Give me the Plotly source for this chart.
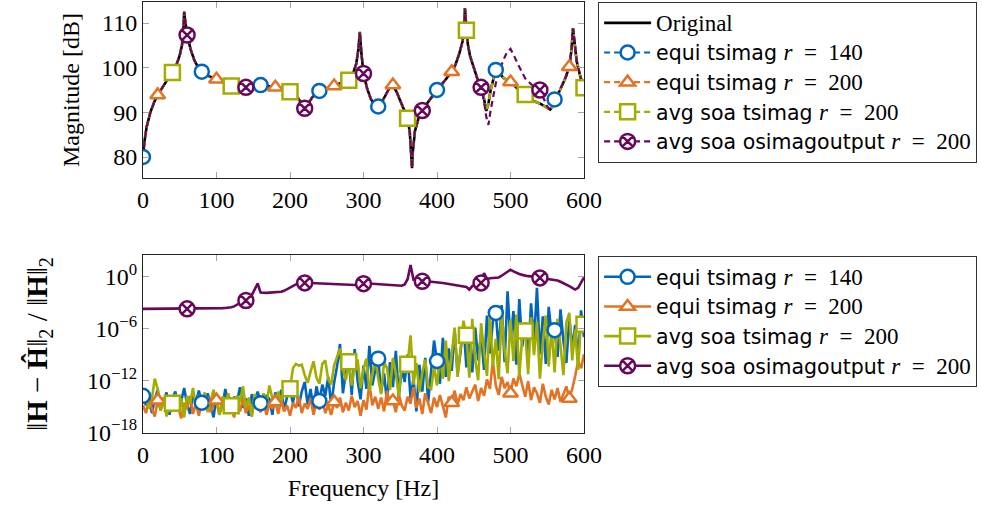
import numpy as np
import plotly.graph_objects as go

SERIF = "Liberation Serif"
SANS = "DejaVu Sans"

BLUE = "#0065BD"
ORANGE = "#E37222"
GREEN = "#A2AD00"
PURPLE = "#69085A"

# ---------------- magnitude of the transfer function [dB] ----------------
mag_freq = [
    0, 2, 5, 10, 15, 20, 25, 30, 35, 40,
    45, 50, 53, 55, 56, 57, 58, 60, 65, 70,
    75, 80, 90, 100, 110, 120, 130, 140, 150, 160,
    170, 180, 190, 200, 210, 215, 220, 225, 230, 240,
    250, 260, 270, 280, 285, 290, 293, 295, 297, 300,
    305, 310, 315, 320, 325, 330, 335, 340, 345, 350,
    355, 360, 363, 365, 366, 367, 370, 375, 380, 390,
    400, 410, 420, 425, 430, 435, 437, 438, 439, 440,
    442, 445, 450, 455, 460, 464, 467, 470, 473, 476,
    480, 485, 490, 495, 500, 505, 510, 520, 530, 540,
    545, 550, 554, 556, 560, 566, 570, 575, 580, 583,
    585, 587, 590, 595, 600,
]
mag_original = [
    80.0, 83.5, 86.8, 90.0, 92.2, 93.9, 95.2, 96.5, 97.7, 98.9,
    100.4, 102.8, 105.0, 108.5, 112.5, 111.0, 109.3, 107.3, 104.0, 101.6,
    100.1, 99.1, 98.1, 97.4, 96.6, 95.9, 95.7, 95.6, 95.9, 96.1,
    95.9, 95.6, 95.2, 94.6, 93.4, 92.2, 90.9, 92.0, 93.3, 94.8,
    95.4, 95.9, 96.5, 97.2, 98.3, 100.8, 104.0, 108.0, 103.5, 98.7,
    95.3, 93.0, 91.7, 91.3, 92.3, 94.0, 95.4, 96.1, 94.6, 92.6,
    90.6, 88.7, 85.5, 80.5, 77.5, 81.0, 85.8, 88.8, 90.4, 92.8,
    95.0, 97.0, 99.1, 100.6, 103.0, 106.0, 109.0, 113.3, 111.0, 108.4,
    105.2, 102.6, 99.8, 97.5, 95.6, 93.0, 90.3, 92.0, 95.0, 97.2,
    99.5, 98.8, 97.8, 97.2, 96.8, 96.0, 95.2, 94.0, 92.6, 92.0,
    91.5, 90.9, 90.6, 91.0, 92.9, 94.5, 96.0, 97.8, 100.2, 104.0,
    108.8, 106.0, 101.5, 98.0, 95.5,
]
mag_equi_tsimag_140 = list(mag_original)
mag_equi_tsimag_200 = list(mag_original)
mag_avg_soa_tsimag_200 = list(mag_original)
mag_avg_soa_osimagoutput_200 = [
    80.0, 83.5, 86.8, 90.0, 92.2, 93.9, 95.2, 96.5, 97.7, 98.9,
    100.4, 102.8, 105.0, 108.5, 112.5, 111.0, 109.3, 107.3, 104.0, 101.6,
    100.1, 99.1, 98.1, 97.4, 96.6, 95.9, 95.7, 95.6, 95.9, 96.1,
    95.9, 95.6, 95.2, 94.6, 93.4, 92.2, 90.9, 92.0, 93.3, 94.8,
    95.4, 95.9, 96.5, 97.2, 98.3, 100.8, 104.0, 108.0, 103.5, 98.7,
    95.3, 93.0, 91.7, 91.3, 92.3, 94.0, 95.4, 96.1, 94.6, 92.6,
    90.6, 88.7, 85.5, 80.5, 77.5, 81.0, 85.8, 88.8, 90.4, 92.8,
    95.0, 97.0, 99.1, 100.6, 103.0, 106.0, 109.0, 113.3, 111.0, 108.4,
    105.2, 102.6, 99.8, 97.5, 95.6, 92.5, 89.0, 87.2, 90.5, 93.5,
    96.5, 99.3, 101.6, 103.4, 104.2, 102.6, 100.8, 97.6, 96.0, 95.0,
    93.0, 91.3, 90.6, 91.0, 92.9, 94.5, 96.0, 97.8, 100.2, 104.0,
    108.8, 106.0, 101.5, 98.0, 95.5,
]

# ---------------- relative error, log10 exponents, every 4 Hz ----------------
err_freq = list(range(0, 601, 4))
err_exp_equi_tsimag_140 = [
    -13.8, -14.9, -13.6, -15.8, -14.2, -13.1, -15.3, -14.6, -13.4, -16.0,
    -14.1, -13.3, -15.5, -14.4, -12.9, -14.8, -15.9, -13.7, -14.5, -13.2,
    -14.6, -15.4, -13.5, -14.9, -16.3, -13.8, -14.3, -15.1, -13.0, -14.7,
    -15.6, -13.9, -14.4, -12.8, -15.2, -14.1, -16.1, -13.6, -14.8, -13.3,
    -14.65, -15.3, -13.7, -14.2, -16.0, -13.4, -14.9, -13.1, -15.5, -13.9,
    -13.2, -14.6, -12.6, -15.0, -13.3, -12.2, -14.8, -13.0, -15.4, -12.7,
    -14.4, -12.5, -13.8, -11.6, -14.9, -12.3, -10.4, -7.8, -13.5, -11.0,
    -9.6, -13.7, -8.4, -12.1, -14.2, -10.3, -13.0, -8.0, -12.6, -10.8,
    -9.5, -13.4, -11.2, -14.6, -9.9, -12.8, -8.6, -13.9, -10.7, -12.2,
    -9.0, -14.1, -11.8, -15.6, -10.2, -13.3, -9.4, -14.5, -11.0, -7.4,
    -9.77, -12.4, -7.1, -11.6, -8.3, -10.9, -6.2, -11.3, -8.8, -5.4,
    -10.5, -7.0, -11.1, -5.9, -9.7, -6.6, -10.8, -4.5, -8.9, -5.2,
    -4.2, -8.6, -3.3, -9.9, -1.7, -7.5, -4.0, -10.2, -2.6, -8.1,
    -5.3, -9.4, -3.1, -7.7, -1.3, -9.0, -4.6, -10.1, -3.5, -6.8,
    -6.2, -9.3, -3.8, -7.4, -10.0, -4.9, -8.2, -5.6, -9.6, -3.9, -7.0,
]
err_exp_equi_tsimag_200 = [
    -14.9, -15.8, -14.3, -15.2, -16.2, -14.3, -15.5, -14.0, -16.0, -14.8,
    -15.6, -13.9, -15.1, -16.4, -14.6, -15.3, -13.8, -15.9, -14.7, -16.1,
    -14.5, -15.4, -13.9, -15.7, -14.8, -14.3, -16.0, -14.9, -15.5, -13.7,
    -15.2, -16.3, -14.4, -15.6, -14.1, -15.8, -14.9, -16.2, -13.9, -15.0,
    -15.7, -14.4, -16.0, -14.8, -15.3, -14.5, -15.9, -14.2, -15.6, -14.9,
    -16.1, -14.6, -15.2, -13.9, -15.8, -14.7, -15.3, -14.1, -16.0, -14.6,
    -15.4, -14.2, -15.8, -14.9, -16.0, -14.5, -15.2, -14.0, -15.7, -14.6,
    -15.5, -13.8, -15.1, -14.4, -16.1, -14.3, -15.4, -12.4, -14.9, -13.9,
    -15.3, -14.0, -15.6, -13.2, -14.8, -14.4, -15.7, -13.6, -14.9, -15.5,
    -13.9, -14.7, -12.8, -15.2, -14.1, -15.9, -13.5, -14.6, -15.8, -14.0,
    -15.1, -13.7, -14.9, -16.3, -13.9, -14.6, -13.2, -14.8, -13.6, -14.3,
    -12.8, -14.1, -13.3, -12.5, -14.4, -12.9, -13.8, -11.9, -13.0, -9.8,
    -12.6, -13.7, -11.6, -12.9, -12.2, -13.5, -11.8, -12.7, -11.2, -12.4,
    -13.9, -12.1, -14.3, -12.8, -13.5, -14.6, -12.4, -13.9, -14.8, -13.1,
    -14.2, -12.9, -14.5, -13.6, -12.7, -14.1, -13.0, -11.5, -9.8, -10.6, -9.0,
]
err_exp_avg_soa_tsimag_200 = [
    -14.6, -13.9, -15.3, -14.2, -11.8, -13.0, -15.5, -14.0, -16.2, -14.3,
    -14.65, -13.6, -15.4, -14.1, -16.3, -13.8, -14.7, -12.9, -15.1, -13.7,
    -14.9, -13.4, -15.7, -14.3, -13.1, -14.6, -16.0, -13.9, -14.8, -13.5,
    -14.96, -15.6, -13.8, -14.5, -12.7, -15.2, -14.0, -16.1, -13.6, -14.4,
    -15.4, -13.5, -14.7, -12.6, -14.1, -15.0, -13.3, -14.6, -12.9, -13.8,
    -12.97, -10.6, -10.1, -10.3, -10.2, -11.4, -12.3, -11.0, -9.8, -11.7,
    -12.4, -10.1, -9.7, -11.9, -12.5, -10.3, -9.2, -8.3, -10.8, -12.0,
    -9.85, -12.6, -10.2, -9.6, -12.9, -10.7, -9.5, -13.2, -11.4, -9.4,
    -11.8, -13.6, -9.9, -10.6, -13.1, -9.4, -11.2, -13.8, -10.3, -9.7,
    -10.15, -6.8, -12.5, -10.0, -13.4, -11.1, -9.6, -12.8, -13.0, -10.4,
    -12.6, -9.2, -11.8, -7.4, -12.1, -9.0, -5.9, -11.6, -8.3, -5.1,
    -6.8, -11.7, -4.9, -9.6, -12.0, -5.4, -8.7, -11.5, -4.6, -10.3,
    -7.2, -11.9, -4.3, -8.5, -11.2, -5.0, -9.8, -4.4, -11.6, -6.9,
    -6.3, -11.3, -4.7, -9.1, -5.2, -11.8, -7.6, -4.5, -10.4, -5.8,
    -11.1, -4.9, -8.0, -11.4, -5.3, -4.2, -9.7, -6.1, -10.8, -4.8, -5.5,
]
err_exp_avg_soa_osimagoutput_200 = [
    -3.73, -3.73, -3.73, -3.73, -3.72, -3.72, -3.72, -3.73, -3.73, -3.73,
    -3.73, -3.73, -3.73, -3.73, -3.73, -3.73, -3.72, -3.71, -3.70, -3.70,
    -3.70, -3.69, -3.69, -3.68, -3.68, -3.67, -3.66, -3.65, -3.63, -3.60,
    -3.55, -3.45, -3.25, -3.00, -2.85, -2.77, -2.55, -2.15, -1.50, -0.80,
    -1.85, -1.90, -1.88, -1.86, -1.84, -1.83, -1.80, -1.75, -1.65, -1.45,
    -1.20, -1.00, -0.90, -0.80, -0.75, -0.73, -0.72, -0.74, -0.76, -0.78,
    -0.80, -0.81, -0.82, -0.84, -0.86, -0.87, -0.88, -0.90, -0.92, -0.95,
    -0.97, -0.98, -0.97, -0.93, -0.88, -0.82, -0.80, -0.80, -0.82, -0.85,
    -0.88, -0.90, -0.93, -0.95, -0.98, -1.00, -1.02, -1.05, -1.05, -0.90,
    -0.30, 1.35, -0.35, -0.45, -0.50, -0.55, -0.56, -0.58, -0.60, -0.62,
    -0.65, -0.70, -0.75, -0.80, -0.85, -0.90, -0.95, -1.00, -1.05, -1.10,
    -1.20, -1.50, -1.10, -0.90, -0.80, -0.73, 0.40, -0.30, -0.20, -0.15,
    -0.15, -0.10, 0.10, 0.35, 0.60, 0.80, 0.60, 0.40, 0.30, 0.20,
    0.10, 0.05, 0.03, -0.05, -0.10, -0.15, -0.20, -0.25, -0.30, -0.33,
    -0.35, -0.45, -0.60, -0.75, -0.90, -1.10, -1.30, -1.50, -1.30, -0.70, -0.10,
]

# marks are placed every 80 Hz, each method with its own starting frequency
MARK_STEP = 80

err_ticks = [1e-18, 1e-12, 1e-6, 1e0]
err_tick_text = ["10<sup>−18</sup>", "10<sup>−12</sup>", "10<sup>−6</sup>", "10<sup>0</sup>"]

MATH_STYLE = f"font-family:{SERIF};font-size:23px"


def r_label(method, r):
    return f'{method} <span style="{MATH_STYLE}"><i>r</i>\u2002=\u2002{r}</span>'


methods = [
    dict(label=r_label("equi tsimag", 140), color=BLUE, symbol="circle", size=14,
         start=0, mag=mag_equi_tsimag_140, err=err_exp_equi_tsimag_140),
    dict(label=r_label("equi tsimag", 200), color=ORANGE, symbol="triangle-up", size=13,
         start=20, mag=mag_equi_tsimag_200, err=err_exp_equi_tsimag_200),
    dict(label=r_label("avg soa tsimag", 200), color=GREEN, symbol="square", size=15,
         start=40, mag=mag_avg_soa_tsimag_200, err=err_exp_avg_soa_tsimag_200),
    dict(label=r_label("avg soa osimagoutput", 200), color=PURPLE, symbol="circle-x", size=15,
         start=60, mag=mag_avg_soa_osimagoutput_200, err=err_exp_avg_soa_osimagoutput_200),
]

DASH = "6px,4px"
MARK_LW = 2.5

fig = go.Figure()

f_mag = np.array(mag_freq, dtype=float)
f_err = np.array(err_freq, dtype=float)

# --- top panel: lines ---
fig.add_trace(go.Scatter(
    x=f_mag, y=mag_original, mode="lines", xaxis="x", yaxis="y",
    line=dict(color="black", width=2.6),
    name=f'<span style="{MATH_STYLE}">Original</span>',
    legend="legend", showlegend=True, hoverinfo="skip"))
for m in methods:
    fig.add_trace(go.Scatter(
        x=f_mag, y=m["mag"], mode="lines", xaxis="x", yaxis="y",
        line=dict(color=m["color"], width=2.2, dash=DASH),
        showlegend=False, hoverinfo="skip"))

# --- bottom panel: lines ---
for m in methods:
    fig.add_trace(go.Scatter(
        x=f_err, y=10.0 ** np.array(m["err"]), mode="lines", xaxis="x2", yaxis="y2",
        line=dict(color=m["color"], width=2.6),
        showlegend=False, hoverinfo="skip"))


def marker_style(m):
    return dict(symbol=m["symbol"], size=m["size"], color="white",
                line=dict(color=m["color"], width=MARK_LW))


# --- marks on top of all lines ---
for m in methods:
    mag = np.array(m["mag"])
    sel = ((f_mag - m["start"]) % MARK_STEP == 0)
    fig.add_trace(go.Scatter(
        x=f_mag[sel], y=mag[sel], mode="markers", xaxis="x", yaxis="y",
        marker=marker_style(m), showlegend=False, hoverinfo="skip"))
for m in methods:
    err = 10.0 ** np.array(m["err"])
    sel = ((f_err - m["start"]) % MARK_STEP == 0)
    fig.add_trace(go.Scatter(
        x=f_err[sel], y=err[sel], mode="markers", xaxis="x2", yaxis="y2",
        marker=marker_style(m), showlegend=False, hoverinfo="skip"))

# --- legend entries ---
for m in methods:
    fig.add_trace(go.Scatter(
        x=[None], y=[None], mode="lines+markers", xaxis="x", yaxis="y",
        line=dict(color=m["color"], width=2.2, dash=DASH),
        marker=marker_style(m), name=m["label"], legend="legend"))
for m in methods:
    fig.add_trace(go.Scatter(
        x=[None], y=[None], mode="lines+markers", xaxis="x2", yaxis="y2",
        line=dict(color=m["color"], width=2.6),
        marker=marker_style(m), name=m["label"], legend="legend2"))

tick_font = dict(family=SERIF, size=24, color="black")
title_font = dict(family=SERIF, size=24, color="black")
axis_common = dict(
    showline=True, linecolor="#222222", linewidth=1, mirror="allticks",
    ticks="inside", ticklen=6, tickwidth=1, tickcolor="#a6a6a6",
    showgrid=False, zeroline=False, tickfont=tick_font,
)

legend_common = dict(
    xanchor="left", yanchor="top", x=1.032,
    bgcolor="white", bordercolor="#333333", borderwidth=1,
    font=dict(family=SANS, size=20.5, color="black"),
    itemwidth=47, itemclick=False, itemdoubleclick=False,
)

fig.update_layout(
    width=982, height=508,
    margin=dict(l=143, r=398, t=2, b=75),
    paper_bgcolor="white", plot_bgcolor="white",
    xaxis=dict(domain=[0, 1], anchor="y", range=[0, 600],
               tickvals=[0, 100, 200, 300, 400, 500, 600], **axis_common),
    yaxis=dict(domain=[0.5916, 1.0], anchor="x", range=[75.3, 114.7],
               tickvals=[80, 90, 100, 110],
               title=dict(text="Magnitude [dB]", font=title_font, standoff=14),
               **axis_common),
    xaxis2=dict(domain=[0, 1], anchor="y2", range=[0, 600],
                tickvals=[0, 100, 200, 300, 400, 500, 600],
                title=dict(text="Frequency [Hz]", font=title_font, standoff=12),
                **axis_common),
    yaxis2=dict(domain=[0.0, 0.413], anchor="x2", type="log", range=[-18.1, 2.5],
                tickvals=err_ticks, ticktext=err_tick_text,
                title=dict(text="‖<b>H</b> − <b>Ĥ</b>‖<sub>2</sub> / ‖<b>H</b>‖<sub>2</sub>",
                           font=dict(family=SERIF, size=29, color="black"), standoff=30),
                **axis_common),
    legend=dict(y=1.0, **legend_common),
    legend2=dict(y=0.4107, **legend_common),
    showlegend=True,
)

fig.write_html("out.html")
